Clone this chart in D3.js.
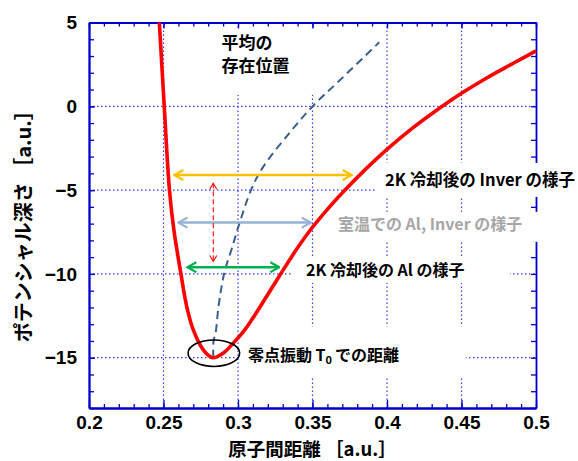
<!DOCTYPE html>
<html><head><meta charset="utf-8">
<script src="https://cdn.jsdelivr.net/npm/d3@7"></script>
<style>body{margin:0;background:#fff}svg{display:block}</style>
</head><body><svg id="c" width="578" height="461"></svg>
<script>
// ---------- data ----------
const xDomain = [0.2, 0.5];
const yDomain = [-18, 5];
const xTicks = [0.2, 0.25, 0.3, 0.35, 0.4, 0.45, 0.5];
const yTicks = [5, 0, -5, -10, -15];

// potential curve (atomic distance, potential depth)
const potR = [0.2472,0.2505,0.2540,0.2570,0.2617,0.2656,0.2700,0.2767,0.2830,0.2902,0.2968,0.3036,0.3092,0.3136,0.3200,0.3280,0.3394,0.3483,0.3600,0.3718,0.3850,0.4000,0.4177,0.4378,0.4500,0.4669,0.4848,0.5000];
const potV = [5,0,-5,-7.4,-10,-11.95,-13.34,-14.53,-15.0,-14.72,-14.13,-13.44,-12.74,-12.14,-11.23,-10.09,-8.52,-7.41,-6.15,-5.0,-3.81,-2.57,-1.26,0.05,0.78,1.69,2.57,3.31];

// mean position (dashed)
const meanR = [0.2834,0.2836,0.2850,0.2868,0.2890,0.2913,0.2958,0.3002,0.3092,0.3170,0.3349,0.3501,0.3685,0.3948];
const meanV = [-15,-14,-13.5,-12.04,-10.75,-9.76,-8.5,-7.2,-4.9,-3.6,-1.55,0,1.57,3.82];

// horizontal double arrows: [x1, x2, y]
const arrowNames = ["inver2K", "roomTemp", "al2K"];
const arrowX1 = [0.2572, 0.2600, 0.2660];
const arrowX2 = [0.3763, 0.3488, 0.3277];
const arrowY  = [-4.1, -6.94, -9.6];
// vertical red dashed arrow
const vArrowX = 0.2834, vArrowY1 = -4.59, vArrowY2 = -9.26;
// zero-point ellipse
const ellC = [0.2838, -14.73], ellR = [0.0173, 0.79];

// annotation labels
const labelText = [["平均の","存在位置"], ["2K 冷却後の Inver の様子"], ["室温での Al, Inver の様子"], ["2K 冷却後の Al の様子"], ["零点振動 T|0|での距離"]];
const labelX = [0.2889, 0.3987, 0.3671, 0.3456, 0.3067];
const labelY = [3.42, -4.75, -7.37, -10.15, -15.21];

// ---------- styles ----------
const plot = {l: 89, r: 536, t: 22.5, b: 408};
const axisColor = "#0000cc", gridColor = "#3a3af0";
const arrowColors = ["#ffc000", "#95b3d7", "#00b050"];
const labelColors = ["#000", "#000", "#a6a6a6", "#000", "#000"];
const labelSize = [17, 16.5, 16, 16, 16];
// white background boxes relative to label anchor: [left, top, right, bottom]
const labelBox = [[-21.5,-20,98.5,46],[-8,-23,205,11],[-8,-18,252,12],[-13,-19.5,204,6.5],[-9,-34.5,218,16.5]];
const numFont = "'Liberation Sans', Arial, sans-serif";
const cjkFont = "'Noto Sans CJK JP', 'Noto Sans', sans-serif";

const svg = d3.select("#c");
const x = d3.scaleLinear().domain(xDomain).range([plot.l, plot.r]);
const y = d3.scaleLinear().domain(yDomain).range([plot.b, plot.t]);

// markers
const defs = svg.append("defs");
function marker(id, color, len, half, sw) {
  defs.append("marker").attr("id", id)
    .attr("markerUnits", "userSpaceOnUse")
    .attr("viewBox", `0 0 ${len+2} ${2*half+2}`)
    .attr("refX", len+1).attr("refY", half+1)
    .attr("markerWidth", len+2).attr("markerHeight", 2*half+2)
    .attr("orient", "auto-start-reverse")
    .append("path")
    .attr("d", `M1,1 L${len+1},${half+1} L1,${2*half+1}`)
    .attr("fill", "none").attr("stroke", color).attr("stroke-width", sw)
    .attr("stroke-linejoin", "miter");
}
arrowColors.forEach((c, i) => marker("m" + i, c, 9, 5, 2.2));
marker("mr", "#ff0000", 6, 3.5, 1.1);

// grid
const grid = svg.append("g");
grid.selectAll(".gx").data(xTicks.slice(1, -1)).join("line")
  .attr("x1", d => x(d)).attr("x2", d => x(d)).attr("y1", plot.t).attr("y2", plot.b);
grid.selectAll(".gy").data(yTicks.slice(1)).join("line")
  .attr("y1", d => y(d)).attr("y2", d => y(d)).attr("x1", plot.l).attr("x2", plot.r);
grid.selectAll("line").attr("stroke", gridColor).attr("stroke-width", 1.2).attr("stroke-dasharray", "1.5,2.5");

// axes
function styleAxis(g) {
  g.selectAll("path.domain").attr("stroke", axisColor).attr("stroke-width", 1.8);
  g.selectAll(".tick line").attr("stroke", axisColor).attr("stroke-width", 1.3);
  g.selectAll(".tick text").attr("fill", "#000").attr("font-family", numFont)
    .attr("font-weight", "bold").attr("font-size", 19);
}
const fmtX = d => String(d);
const fmtY = d3.format("d");
svg.append("g").attr("transform", `translate(0,${plot.b})`)
  .call(d3.axisBottom(x).tickValues(x.ticks(30)).tickSize(-4).tickSizeOuter(0).tickFormat("")).call(styleAxis);
svg.append("g").attr("transform", `translate(0,${plot.b})`)
  .call(d3.axisBottom(x).tickValues(xTicks).tickSize(-8).tickSizeOuter(0).tickPadding(8).tickFormat(fmtX)).call(styleAxis);
svg.append("g").attr("transform", `translate(0,${plot.t})`)
  .call(d3.axisTop(x).tickValues(x.ticks(30)).tickSize(-4).tickSizeOuter(0).tickFormat("")).call(styleAxis);
svg.append("g").attr("transform", `translate(0,${plot.t})`)
  .call(d3.axisTop(x).tickValues(xTicks).tickSize(-6).tickSizeOuter(0).tickFormat("")).call(styleAxis);
svg.append("g").attr("transform", `translate(${plot.l},0)`)
  .call(d3.axisLeft(y).tickValues(y.ticks(23)).tickSize(-5).tickSizeOuter(0).tickFormat("")).call(styleAxis);
svg.append("g").attr("transform", `translate(${plot.l},0)`)
  .call(d3.axisLeft(y).tickValues(yTicks).tickSize(-6).tickSizeOuter(0).tickPadding(12).tickFormat(fmtY)).call(styleAxis);
svg.append("g").attr("transform", `translate(${plot.r},0)`)
  .call(d3.axisRight(y).tickValues(y.ticks(23)).tickSize(-5).tickSizeOuter(0).tickFormat("")).call(styleAxis);

// white label boxes (drawn over grid/axes)
svg.append("g").selectAll("rect").data(labelBox).join("rect")
  .attr("x", (b, i) => x(labelX[i]) + b[0])
  .attr("y", (b, i) => y(labelY[i]) + b[1])
  .attr("width", b => b[2] - b[0]).attr("height", b => b[3] - b[1])
  .attr("fill", "#fff");

// curves
const pot = potR.map((r, i) => [r, potV[i]]);
const mean = meanR.map((r, i) => [r, meanV[i]]);
const line = d3.line().x(d => x(d[0])).y(d => y(d[1])).curve(d3.curveCatmullRom.alpha(0.5));
svg.append("path").datum(mean).attr("d", line).attr("fill", "none")
  .attr("stroke", "#3b5f8c").attr("stroke-width", 2).attr("stroke-dasharray", "8,5");
svg.append("path").datum(pot).attr("d", line).attr("fill", "none")
  .attr("stroke", "#ff0000").attr("stroke-width", 3.6).attr("stroke-linejoin", "round");

// arrows
svg.append("g").selectAll("line").data(arrowNames).join("line")
  .attr("x1", (d, i) => x(arrowX1[i])).attr("x2", (d, i) => x(arrowX2[i]))
  .attr("y1", (d, i) => y(arrowY[i])).attr("y2", (d, i) => y(arrowY[i]))
  .attr("stroke", (d, i) => arrowColors[i]).attr("stroke-width", 2.5)
  .attr("marker-start", (d, i) => `url(#m${i})`).attr("marker-end", (d, i) => `url(#m${i})`);
svg.append("line").attr("x1", x(vArrowX)).attr("x2", x(vArrowX))
  .attr("y1", y(vArrowY1)).attr("y2", y(vArrowY2))
  .attr("stroke", "#ff0000").attr("stroke-width", 1.1).attr("stroke-dasharray", "5,3")
  .attr("marker-start", "url(#mr)").attr("marker-end", "url(#mr)");

// ellipse
svg.append("ellipse").attr("cx", x(ellC[0])).attr("cy", y(ellC[1]))
  .attr("rx", x(ellC[0] + ellR[0]) - x(ellC[0])).attr("ry", y(ellC[1] - ellR[1]) - y(ellC[1]))
  .attr("fill", "none").attr("stroke", "#000").attr("stroke-width", 1.6);

// labels
labelText.forEach((lines, i) => {
  lines.forEach((ln, j) => {
    const t = svg.append("text").attr("x", x(labelX[i])).attr("y", y(labelY[i]) + j * 23.5)
      .attr("font-family", cjkFont).attr("font-weight", "bold")
      .attr("font-size", labelSize[i]).attr("fill", labelColors[i]);
    const parts = ln.split("|");
    if (parts.length === 3) {
      t.append("tspan").text(parts[0]);
      t.append("tspan").text(parts[1]).attr("font-size", 11).attr("dy", 3);
      t.append("tspan").text(parts[2]).attr("dy", -3).attr("dx", 3);
    } else t.text(ln);
  });
});

// axis titles
svg.append("text").attr("x", (plot.l + plot.r) / 2).attr("y", 455.5)
  .attr("text-anchor", "middle").attr("font-family", cjkFont).attr("font-weight", "bold")
  .attr("font-size", 18.5).text("原子間距離 ［a.u.］");
svg.append("text").attr("transform", `translate(31,${(plot.t + plot.b) / 2 + 6}) rotate(-90)`)
  .attr("text-anchor", "middle").attr("font-family", cjkFont).attr("font-weight", "bold")
  .attr("font-size", 20).text("ポテンシャル深さ ［a.u.］");
</script></body></html>
